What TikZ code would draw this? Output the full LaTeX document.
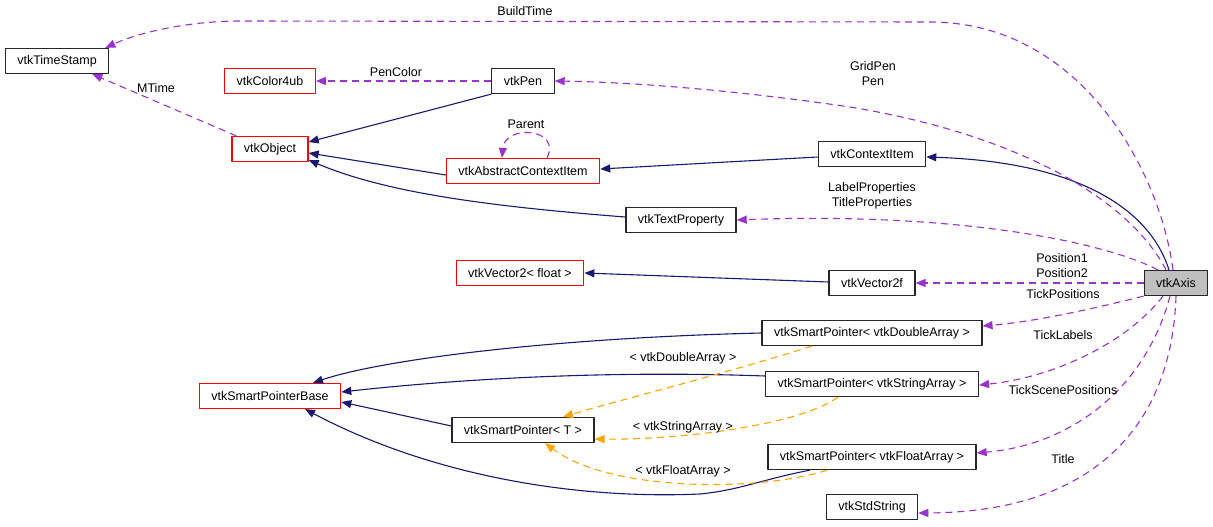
\documentclass[tikz,border=0pt]{standalone}
\usepackage{fontspec}
\setmainfont{Liberation Sans}
\usetikzlibrary{arrows.meta}
\definecolor{navyedge}{HTML}{191970}
\definecolor{memedge}{HTML}{9A32CD}
\definecolor{tmpledge}{HTML}{FFA500}
\begin{document}
\begin{tikzpicture}[x=1pt,y=-1pt,>={Triangle[length=10pt,width=8pt]},line join=round,font=\fontsize{12.5}{14}\selectfont,
	cls/.style={draw=black!85,fill=white,line width=1.2pt,inner xsep=12pt,inner ysep=0pt,minimum height=25pt},
	clsred/.style={cls,draw=red},
	inh/.style={navyedge,line width=1.1pt,->},
	mem/.style={memedge,line width=1.1pt,dash pattern=on 7pt off 5pt,->},
	tmpl/.style={tmpledge,line width=1.1pt,dash pattern=on 7pt off 5pt,->},
	lbl/.style={inner sep=0pt,align=center,font=\fontsize{12.5}{15}\selectfont}]
				\useasboundingbox (0,0) rectangle (1213,527);
				\node[cls] (ts) at (57,61) {vtkTimeStamp};
				\node[clsred] (col) at (270,81) {vtkColor4ub};
				\node[cls] (pen) at (523,81) {vtkPen};
				\node[clsred] (obj) at (270,149) {vtkObject};
				\node[clsred] (aci) at (523,171) {vtkAbstractContextItem};
				\node[cls] (ci) at (872,154) {vtkContextItem};
				\node[cls] (tp) at (681,220) {vtkTextProperty};
				\node[clsred] (vecf) at (520,273) {vtkVector2< float >};
				\node[cls] (vec2f) at (872,283) {vtkVector2f};
				\node[cls,fill=gray!50] (axis) at (1176,283) {vtkAxis};
				\node[cls] (sda) at (872,333) {vtkSmartPointer< vtkDoubleArray >};
				\node[cls] (ssa) at (872,384) {vtkSmartPointer< vtkStringArray >};
				\node[clsred] (spb) at (270,396) {vtkSmartPointerBase};
				\node[cls] (spt) at (523,430) {vtkSmartPointer< T >};
				\node[cls] (sfa) at (872,457) {vtkSmartPointer< vtkFloatArray >};
				\node[cls] (sstr) at (872,507) {vtkStdString};
				\draw[inh] (pen.south west) -- ([yshift=7pt]obj.east);
				\draw[inh] ([yshift=-4pt]aci.west) -- ([yshift=-4pt]obj.east);
				\draw[inh] ([yshift=3pt]tp.west) .. controls (470,205) and (380,190) .. ([yshift=2pt]obj.south east);
				\draw[inh] ([yshift=-3pt]ci.west) -- ([yshift=2pt]aci.east);
				\draw[inh] ([xshift=-7pt]axis.north) .. controls (1150,210) and (1080,162) .. ([yshift=-3pt]ci.east);
				\draw[inh] ([yshift=1pt]vec2f.west) -- (vecf.east);
				\draw[inh] (sda.west) .. controls (550,338) and (380,360) .. ([xshift=43pt]spb.north);
				\draw[inh] ([yshift=8pt]ssa.west) .. controls (600,370) and (450,380) .. ([yshift=4pt]spb.east);
				\draw[inh] ([yshift=4pt]spt.west) -- ([yshift=-6pt]spb.east);
				\draw[inh] ([xshift=-62pt]sfa.south) .. controls (760,480) and (740,490) .. (700,494) .. controls (560,500) and (420,470) .. ([xshift=35pt]spb.south);
				\draw[tmpl] ([xshift=-60pt]sda.south) .. controls (720,375) and (620,400) .. ([xshift=40pt]spt.north);
				\node[lbl] (lda) at (683,358) {< vtkDoubleArray >};
				\draw[tmpl] ([xshift=-34pt]ssa.south) .. controls (800,425) and (680,440) .. ([yshift=-9pt]spt.east);
				\node[lbl] (lsa) at (683,427) {< vtkStringArray >};
				\draw[tmpl] ([xshift=-45pt]sfa.south) .. controls (760,492) and (610,492) .. ([xshift=22pt]spt.south);
				\node[lbl] (lfa) at (683,471) {< vtkFloatArray >};
				\draw[mem] ([xshift=-3pt]axis.north) .. controls (1160,170) and (1080,22) .. (930,22) -- (240,21) .. controls (190,21) and (140,32) .. ([xshift=-4pt]ts.north east);
				\node[lbl] (lbt) at (525,11) {BuildTime};
				\draw[mem] ([xshift=-10pt]axis.north) .. controls (1130,200) and (1020,135) .. (850,107) .. controls (720,88) and (620,82) .. (pen.east);
				\node[lbl] (lgp) at (873,74) {GridPen\\Pen};
				\draw[mem] (pen.west) -- (col.east);
				\node[lbl] (lpc) at (396,72) {PenColor};
				\draw[mem] ([xshift=5pt]obj.north west) -- ([xshift=-17pt]ts.south east);
				\node[lbl] (lmt) at (156,88) {MTime};
				\draw[mem] ([xshift=24pt]aci.north) .. controls (562,128) and (505,124) .. ([xshift=-21pt]aci.north);
				\node[lbl] (lpa) at (526,124) {Parent};
				\draw[mem] ([xshift=-18pt]axis.north) .. controls (1100,240) and (950,212) .. (tp.east);
				\node[lbl] (llp) at (872,196) {LabelProperties\\TitleProperties};
				\draw[mem] (axis.west) -- (vec2f.east);
				\node[lbl] (lpos) at (1062,266) {Position1\\Position2};
				\draw[mem] (axis.south west) .. controls (1080,312) and (1030,322) .. ([yshift=7pt]sda.east);
				\node[lbl] (ltp) at (1063,294) {TickPositions};
				\draw[mem] ([xshift=-13pt]axis.south) .. controls (1125,345) and (1050,378) .. ([yshift=-1pt]ssa.east);
				\node[lbl] (ltl) at (1063,335) {TickLabels};
				\draw[mem] ([xshift=-6pt]axis.south) .. controls (1145,390) and (1070,445) .. ([yshift=4pt]sfa.east);
				\node[lbl] (lts) at (1063,390) {TickScenePositions};
				\draw[mem] (axis.south) .. controls (1172,420) and (1100,512) .. ([yshift=-6pt]sstr.east);
				\node[lbl] (lti) at (1063,459) {Title};
			\end{tikzpicture}
\end{document}
